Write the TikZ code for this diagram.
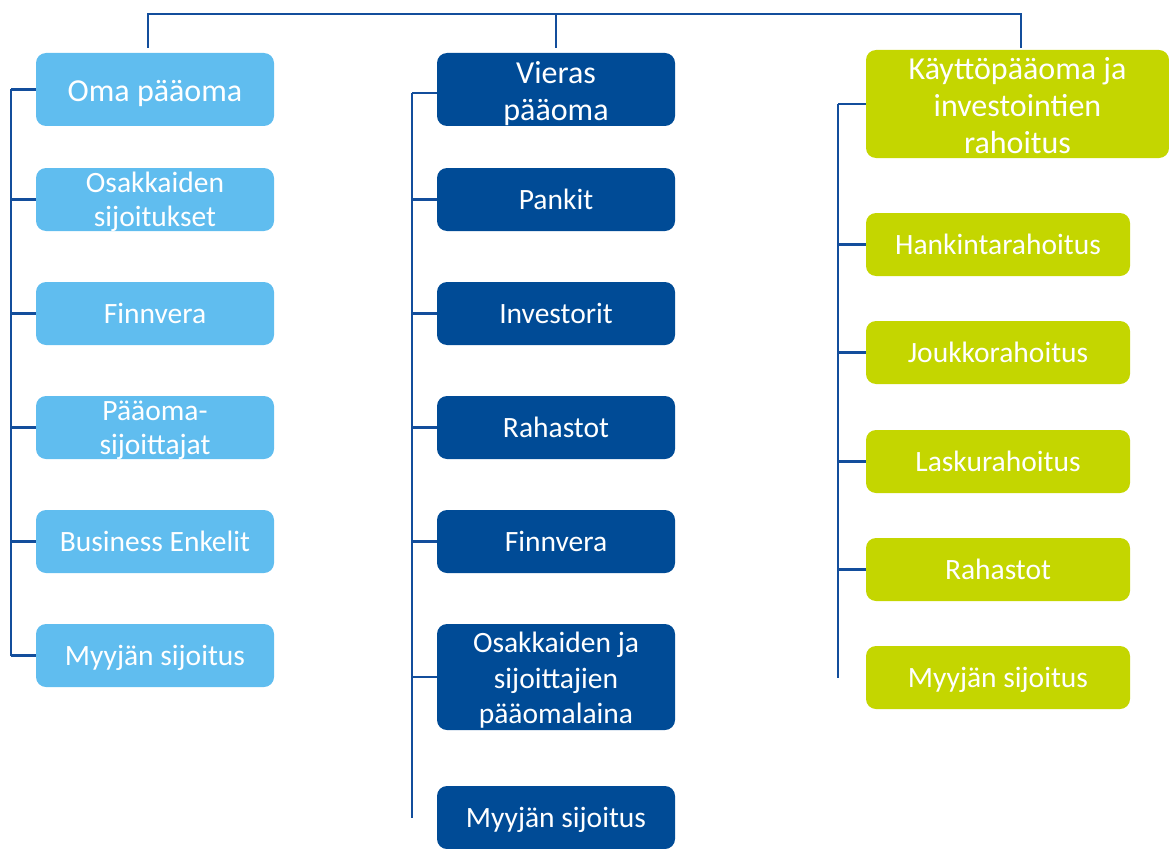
\documentclass[tikz,border=0pt]{standalone}
\usepackage{fontspec}
\setmainfont{Carlito}
\usetikzlibrary{calc}

\definecolor{omablue}{HTML}{60BDEF}
\definecolor{vierasblue}{HTML}{004B96}
\definecolor{kayttogreen}{HTML}{C4D600}
\definecolor{linkblue}{HTML}{134E9C}

\tikzset{
  box/.style={rounded corners=10pt, inner sep=0pt, text=white, align=center,
    minimum width=238pt, minimum height=63pt,
    font=\fontsize{29.5}{35.5}\selectfont,
    text height=26pt, text depth=7pt},
  stacked/.style 2 args={text height=#1, text depth=#2},
  headbox/.style={box, minimum height=73pt, font=\fontsize{32}{37}\selectfont},
  omabox/.style={box, fill=omablue},
  vierasbox/.style={box, fill=vierasblue},
  kayttobox/.style={box, fill=kayttogreen, minimum width=264pt},
  link/.style={draw=linkblue, line width=2.5pt}
}

\begin{document}
\begin{tikzpicture}[x=1pt, y=-1pt]
  \useasboundingbox (0,0) rectangle (1169,848);

  % first column
  \node [omabox, headbox, fill=omablue, stacked={30pt}{5pt}] (o1) at (155,89.5) {Oma pääoma};
  \node [omabox, stacked={58pt}{5pt}, font=\fontsize{29.5}{33.5}\selectfont] (o2) at (155,199.5) {Osakkaiden\\sijoitukset};
  \node [omabox] (o3) at (155,313.5) {Finnvera};
  \node [omabox, stacked={58pt}{5pt}, font=\fontsize{29.5}{33.5}\selectfont] (o4) at (155,427.5) {Pääoma-\\sijoittajat};
  \node [omabox] (o5) at (155,541.5) {Business Enkelit};
  \node [omabox] (o6) at (155,655.5) {Myyjän sijoitus};

  % second column
  \node [vierasbox, headbox, fill=vierasblue, stacked={68pt}{5pt}] (v1) at (556,89.5) {Vieras\\pääoma};
  \node [vierasbox] (v2) at (556,199.5) {Pankit};
  \node [vierasbox] (v3) at (556,313.5) {Investorit};
  \node [vierasbox] (v4) at (556,427.5) {Rahastot};
  \node [vierasbox] (v5) at (556,541.5) {Finnvera};
  \node [vierasbox, stacked={99pt}{5.5pt}, minimum height=106pt] (v6) at (556,677) {Osakkaiden ja\\sijoittajien\\pääomalaina};
  \node [vierasbox] (v7) at (556,817.5) {Myyjän sijoitus};

  % third column
  \node [kayttobox, headbox, fill=kayttogreen, stacked={103pt}{4.5pt}, minimum width=303pt, minimum height=108pt]
    (k1) at (1017.5,104) {Käyttöpääoma ja\\investointien\\rahoitus};
  \node [kayttobox] (k2) at (998,244.5) {Hankintarahoitus};
  \node [kayttobox] (k3) at (998,352.5) {Joukkorahoitus};
  \node [kayttobox] (k4) at (998,461.5) {Laskurahoitus};
  \node [kayttobox] (k5) at (998,569.5) {Rahastot};
  \node [kayttobox] (k6) at (998,677.5) {Myyjän sijoitus};

  % top bar
  \coordinate (bar) at (0,14);
  \coordinate (o1top) at ([xshift=-7pt,yshift=5pt]o1.north);
  \coordinate (v1top) at ([yshift=5pt]v1.north);
  \coordinate (k1top) at ([xshift=3.5pt,yshift=2pt]k1.north);
  \draw [link] (o1top) |- (bar -| k1top) -- (k1top);
  \draw [link] (v1top) -- (bar -| v1top);

  % spines
  \coordinate (sp1) at (11,0);
  \coordinate (sp2) at (412,0);
  \coordinate (sp3) at (838,0);

  \draw [link] (o1.west -| sp1) -- (o6.west -| sp1);
  \foreach \n in {o1,o2,o3,o4,o5,o6}
    \draw [link] (\n.west) -- (\n.west -| sp1);

  \draw [link] ([yshift=-3.5pt]v1.west -| sp2) -- (v7.west -| sp2);
  \draw [link] ([yshift=-3.5pt]v1.west) -- ([yshift=-3.5pt]v1.west -| sp2);
  \foreach \n in {v2,v3,v4,v5,v6}
    \draw [link] (\n.west) -- (\n.west -| sp2);

  \draw [link] (k1.west -| sp3) -- (k6.west -| sp3);
  \foreach \n in {k1,k2,k3,k4,k5}
    \draw [link] (\n.west) -- (\n.west -| sp3);
\end{tikzpicture}
\end{document}
